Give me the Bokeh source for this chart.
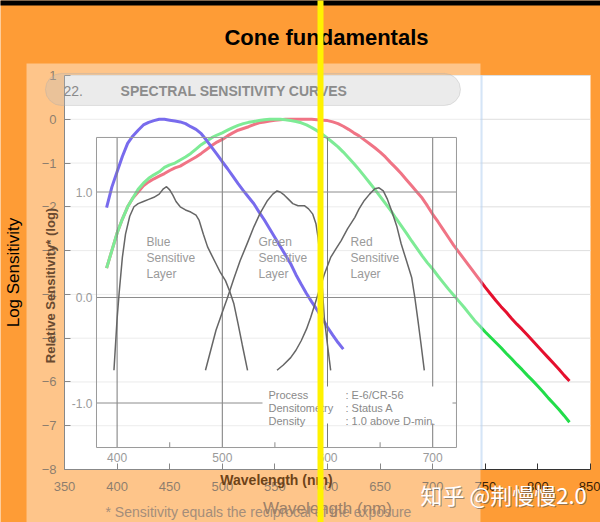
import math
from bokeh.plotting import figure
from bokeh.models import Range1d, FixedTicker, BoxAnnotation, Label
from bokeh.core.properties import value
from bokeh.embed import file_html
from bokeh.resources import INLINE

# ---------------- data: cone fundamentals (log sensitivity) ----------------
wl_s = list(range(390, 620, 5))
s_cone = [-2.02, -1.55, -1.2, -0.85, -0.55, -0.38, -0.25, -0.13, -0.07, -0.03,
          0.0, 0.0, -0.02, -0.04, -0.06, -0.1, -0.17, -0.23, -0.33, -0.48,
          -0.64, -0.8, -0.97, -1.13, -1.3, -1.47, -1.63, -1.78, -1.93, -2.12,
          -2.3, -2.5, -2.7, -2.9, -3.1, -3.3, -3.55, -3.77, -3.98, -4.17,
          -4.35, -4.55, -4.75, -4.93, -5.1, -5.25]
wl_lm = list(range(390, 835, 5))
m_cone = [-3.4, -3.0, -2.6, -2.28, -2.0, -1.8, -1.6, -1.46, -1.35, -1.27,
          -1.2, -1.1, -1.04, -1.0, -0.93, -0.86, -0.78, -0.68, -0.58, -0.5,
          -0.42, -0.36, -0.31, -0.25, -0.19, -0.14, -0.1, -0.07, -0.05, -0.03,
          -0.01, 0.0, 0.0, 0.0, -0.01, -0.03, -0.05, -0.08, -0.13, -0.19,
          -0.26, -0.34, -0.43, -0.53, -0.63, -0.75, -0.88, -1.01, -1.15, -1.3,
          -1.45, -1.6, -1.76, -1.92, -2.08, -2.26, -2.43, -2.6, -2.78, -2.95,
          -3.12, -3.28, -3.42, -3.58, -3.73, -3.88, -4.02, -4.16, -4.3, -4.45,
          -4.6, -4.73, -4.86, -4.98, -5.1, -5.22, -5.35, -5.47, -5.6, -5.72,
          -5.85, -5.97, -6.1, -6.23, -6.37, -6.5, -6.63, -6.77, -6.92]
l_cone = [-3.4, -3.0, -2.6, -2.28, -2.0, -1.8, -1.66, -1.52, -1.43, -1.36,
          -1.3, -1.24, -1.17, -1.11, -1.07, -1.0, -0.93, -0.86, -0.78, -0.69,
          -0.6, -0.52, -0.46, -0.38, -0.31, -0.25, -0.21, -0.17, -0.12, -0.08,
          -0.06, -0.04, -0.02, -0.01, 0.0, 0.0, 0.0, 0.0, 0.0, 0.0,
          -0.01, -0.02, -0.03, -0.06, -0.1, -0.16, -0.23, -0.31, -0.38, -0.47,
          -0.56, -0.65, -0.75, -0.86, -0.99, -1.11, -1.24, -1.38, -1.52, -1.66,
          -1.8, -1.98, -2.17, -2.34, -2.52, -2.7, -2.88, -3.04, -3.2, -3.36,
          -3.52, -3.68, -3.84, -3.99, -4.14, -4.28, -4.41, -4.55, -4.68, -4.8,
          -4.93, -5.06, -5.19, -5.32, -5.45, -5.58, -5.71, -5.85, -5.98]

x_ticks = [350, 400, 450, 500, 550, 600, 650, 700, 750, 800, 850]
y_ticks = [-8, -7, -6, -5, -4, -3, -2, -1, 0, 1]
X_BOUNDS = (350, 850)
Y_BOUNDS = (-8, 1)

# ---------------- data: overlaid Kodak film spectral sensitivity ----------------
k_blue_wl = [397, 400, 402, 405, 408, 412, 416, 420, 425, 430, 435, 440, 444, 447,
             450, 453, 456, 460, 465, 470, 475, 478, 482, 486, 490, 494, 498, 503,
             507, 511, 515, 519, 524]
k_blue = [-0.69, -0.2, 0.05, 0.38, 0.6, 0.77, 0.86, 0.89, 0.91, 0.93, 0.95, 0.98,
          1.03, 1.05, 1.02, 0.97, 0.91, 0.86, 0.83, 0.81, 0.78, 0.73, 0.6, 0.48,
          0.4, 0.32, 0.24, 0.16, 0.06, -0.06, -0.25, -0.45, -0.69]
k_green_wl = [484, 489, 494, 500, 505, 511, 517, 524, 530, 536, 543, 548, 552, 555,
              559, 563, 567, 572, 578, 582, 586, 589, 591, 593, 595, 597, 600, 603]
k_green = [-0.69, -0.5, -0.31, -0.14, 0.0, 0.18, 0.35, 0.52, 0.67, 0.8, 0.92, 0.98,
           1.01, 1.0, 0.97, 0.93, 0.89, 0.87, 0.87, 0.84, 0.79, 0.7, 0.57, 0.38,
           0.1, -0.2, -0.45, -0.69]
k_red_wl = [552, 558, 565, 570, 575, 580, 584, 590, 597, 603, 608, 613, 619, 626,
            630, 635, 640, 645, 649, 653, 657, 661, 666, 670, 675, 680, 683, 686,
            689, 692]
k_red = [-0.69, -0.64, -0.57, -0.5, -0.41, -0.3, -0.19, 0.0, 0.22, 0.38, 0.46, 0.54,
         0.65, 0.76, 0.84, 0.92, 0.98, 1.03, 1.04, 1.01, 0.93, 0.82, 0.67, 0.51,
         0.35, 0.19, 0.0, -0.22, -0.45, -0.69]
k_x_ticks = [400, 500, 600, 700]
k_x_minor = [450, 550, 650]
k_y_ticks = [1.0, 0.0, -1.0]
k_y_labels = ["1.0", "0.0", "-1.0"]
k_layers = ["Blue\nSensitive\nLayer", "Green\nSensitive\nLayer", "Red\nSensitive\nLayer"]

# ---------------- layout constants ----------------
ORANGE = "#FE9C36"
FONT = "Liberation Sans"
X_VIEW = (289.16, 859.5)            # canvas-wide view of the wavelength axis
Y_VIEW = (-9.2106, 2.713)           # canvas-wide view of log sensitivity
K_VIEW = (-2.1327, 2.8152)          # canvas-wide view of the kodak density scale
K_BOX = (380.4, 722.6, -1.422, 1.517)  # inner kodak plot box (x0, x1, y0, y1)

p = figure(width=600, height=522, output_backend="svg", toolbar_location=None, title=None,
           x_range=Range1d(*X_VIEW), y_range=Range1d(*Y_VIEW), min_border=0,
           background_fill_color=ORANGE, border_fill_color=ORANGE, outline_line_color=None)
p.extra_y_ranges = {"kodak": Range1d(*K_VIEW)}

xa, ya = p.xaxis[0], p.yaxis[0]
xa.fixed_location = Y_BOUNDS[0]
ya.fixed_location = X_BOUNDS[0]
xa.bounds = X_BOUNDS
ya.bounds = Y_BOUNDS
for ax in (xa, ya):
    ax.axis_line_color = "#333333"
    ax.major_tick_line_color = "#333333"
    ax.major_tick_in = 6
    ax.major_tick_out = 0
    ax.minor_tick_line_color = None
    ax.major_label_text_font = FONT
    ax.major_label_text_font_size = "13px"
    ax.major_label_text_color = "#3a1e05"
xa.ticker = FixedTicker(ticks=x_ticks)
ya.ticker = FixedTicker(ticks=y_ticks)
xa.major_label_standoff = 12
ya.major_label_standoff = 8
ya.axis_label = "Log Sensitivity"
ya.axis_label_text_font = FONT
ya.axis_label_text_font_size = "17px"
ya.axis_label_text_font_style = "normal"
ya.axis_label_text_color = "black"
ya.axis_label_standoff = 16
p.xgrid.visible = False
p.ygrid.visible = False

# plot area and horizontal grid
p.quad(left=[X_BOUNDS[0]], right=[X_BOUNDS[1]], bottom=[Y_BOUNDS[0]], top=[Y_BOUNDS[1]],
       fill_color="white", line_color=None, level="underlay")
p.segment(x0=[X_BOUNDS[0]] * len(y_ticks), x1=[X_BOUNDS[1]] * len(y_ticks), y0=y_ticks,
          y1=y_ticks, line_color="#dedede", line_width=1, level="underlay")

# title
p.add_layout(Label(x=599, y=1.868, text="Cone fundamentals", text_font=FONT,
                   text_font_size="22px", text_font_style="bold", text_color="black",
                   text_align="center", text_baseline="middle"))

# cone fundamentals
p.line(wl_lm, l_cone, line_color="#E5102E", line_width=3)
p.line(wl_lm, m_cone, line_color="#22DD4A", line_width=3)
p.line(wl_s, s_cone, line_color="#1800E0", line_width=3)

# semi-transparent overlaid page
p.add_layout(BoxAnnotation(left=313.9, right=745.4, top=1.274, bottom=-20,
                           fill_color="white", fill_alpha=0.42, line_color=None,
                           level="annotation"))
p.add_layout(BoxAnnotation(left=745.4, right=747.4, top=Y_BOUNDS[1], bottom=Y_BOUNDS[0],
                           fill_color="#b9d3f2", fill_alpha=0.6, line_color=None,
                           level="annotation"))

KG = "#8c8c8c"
kx0, kx1, ky0, ky1 = K_BOX
# kodak grid and box
p.segment(x0=k_x_ticks, x1=k_x_ticks, y0=[ky0] * 4, y1=[ky1] * 4, y_range_name="kodak",
          line_color="#7a7a7a", line_width=1, level="overlay")
p.segment(x0=[kx0] * 3, x1=[kx1] * 3, y0=k_y_ticks, y1=k_y_ticks, y_range_name="kodak",
          line_color=KG, line_width=1, level="overlay")
p.segment(x0=k_x_minor, x1=k_x_minor, y0=[ky0] * 3, y1=[ky0 + 0.05] * 3, y_range_name="kodak",
          line_color=KG, line_width=1, level="overlay")
p.quad(left=[kx0], right=[kx1], bottom=[ky0], top=[ky1], y_range_name="kodak",
       fill_color=None, line_color="#9a9a9a", line_width=1, level="overlay")
# kodak layer curves
for xs, ys in ((k_blue_wl, k_blue), (k_green_wl, k_green), (k_red_wl, k_red)):
    p.line(xs, ys, y_range_name="kodak", line_color="#666666", line_width=1.5, level="overlay")
# kodak texts
p.text(x=[427.9, 534.4, 621.9], y=[0.597] * 3, text=k_layers, y_range_name="kodak",
       text_font=value(FONT), text_font_size="12px", text_color="#9a9a9a",
       text_baseline="top", text_line_height=1.15, level="overlay")
p.quad(left=[538.2], right=[718.8], bottom=[-1.194], top=[-0.844], y_range_name="kodak",
       fill_color="white", line_color=None, level="overlay")
p.text(x=[543.9], y=[-0.863], text=["Process\nDensitometry\nDensity"], y_range_name="kodak",
       text_font=value(FONT), text_font_size="11px", text_color="#8a8a8a",
       text_baseline="top", text_line_height=1.1, level="overlay")
p.text(x=[617.1], y=[-0.863], text=[": E-6/CR-56\n: Status A\n: 1.0 above D-min."],
       y_range_name="kodak", text_font=value(FONT), text_font_size="11px",
       text_color="#8a8a8a", text_baseline="top", text_line_height=1.1, level="overlay")
p.text(x=k_x_ticks, y=[-1.517] * 4, text=[str(v) for v in k_x_ticks], y_range_name="kodak",
       text_font=value(FONT), text_font_size="12px", text_color="#9a9a9a",
       text_align="center", text_baseline="middle", level="overlay")
p.text(x=[376.6] * 3, y=k_y_ticks, text=k_y_labels, y_range_name="kodak",
       text_font=value(FONT), text_font_size="12px", text_color="#9a9a9a",
       text_align="right", text_baseline="middle", level="overlay")

# header pill
p.add_layout(BoxAnnotation(left=331.9, right=726.4, top=1.046, bottom=0.315,
                           fill_color="#bdbdbd", fill_alpha=0.3, line_color="#a8a8a8",
                           line_width=1, border_radius=16, level="overlay"))
p.add_layout(Label(x=349, y=0.657, text="22.", text_font=FONT, text_font_size="14px",
                   text_color="#8a8a8a", text_baseline="middle", level="overlay"))
p.add_layout(Label(x=403.3, y=0.657, text="SPECTRAL SENSITIVITY CURVES", text_font=FONT,
                   text_font_size="14px", text_font_style="bold", text_color="#8c8c8c",
                   text_baseline="middle", level="overlay"))
# kodak y label
p.add_layout(Label(x=336.7, y=0.114, y_range_name="kodak", text="Relative Sensitivity* (log)",
                   text_font=FONT, text_font_size="13px", text_font_style="bold",
                   text_color="#6a4a30", angle=math.pi / 2, text_align="center",
                   text_baseline="middle", level="overlay"))
# bottom texts
p.add_layout(Label(x=389, y=-8.982, text="*  Sensitivity equals the reciprocal of the exposure",
                   text_font=FONT, text_font_size="14px", text_color="#a48d7a",
                   text_baseline="middle", level="overlay"))
p.add_layout(Label(x=600, y=-8.89, text="Wavelength (nm)", text_font=FONT,
                   text_font_size="17px", text_color="#9c8068", text_align="center",
                   text_baseline="middle", level="overlay"))
p.add_layout(Label(x=551.5, y=-8.25, text="Wavelength (nm)", text_font=FONT,
                   text_font_size="14px", text_font_style="bold", text_color="#6e4318",
                   text_align="center", text_baseline="middle", level="overlay"))
# watermark
p.add_layout(Label(x=688.4, y=-8.57, x_offset=1, y_offset=-1, text="知乎 @荆慢慢2.0",
                   text_font="Noto Sans CJK SC", text_font_size="22px", text_color="#555555",
                   text_alpha=0.6, text_baseline="middle", level="overlay"))
p.add_layout(Label(x=688.4, y=-8.57, text="知乎 @荆慢慢2.0",
                   text_font="Noto Sans CJK SC", text_font_size="22px", text_color="white",
                   text_baseline="middle", level="overlay"))
# top black band and yellow marker line
p.add_layout(BoxAnnotation(left=200, right=1000, top=20, bottom=2.599, fill_color="black",
                           fill_alpha=1, line_color=None, level="overlay"))
p.add_layout(BoxAnnotation(left=590.5, right=596.2, top=20, bottom=-20, fill_color="#FFF200",
                           fill_alpha=1, line_color=None, level="overlay"))

open("out.html", "w").write(file_html(p, INLINE))
